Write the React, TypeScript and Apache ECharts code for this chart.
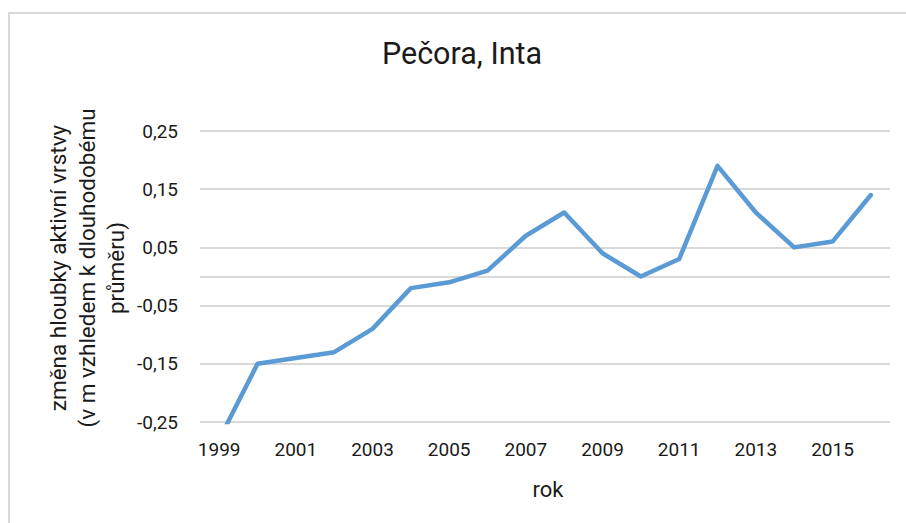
import React, { useEffect, useRef } from "react";
import * as echarts from "echarts";

const years = ["1999","2000","2001","2002","2003","2004","2005","2006","2007","2008","2009","2010","2011","2012","2013","2014","2015","2016"];
const changeValues = [-0.28, -0.15, -0.14, -0.13, -0.09, -0.02, -0.01, 0.01, 0.07, 0.11, 0.04, 0.0, 0.03, 0.19, 0.11, 0.05, 0.06, 0.14];
const yTickLabels = [-0.25, -0.15, -0.05, 0.05, 0.15, 0.25];
const gridLineValues = [-0.25, -0.15, -0.05, 0, 0.05, 0.15, 0.25];
const yMin = -0.25;
const yMax = 0.25;
const yStep = 0.05;

const titleText = "Pečora, Inta";
const yNameLines = ["změna hloubky aktivní vrstvy", "(v m vzhledem k dlouhodobému", "průměru)"];
const xName = "rok";

const FONT = "Roboto";
const TEXT = "#1a1a1a";
const GRID = "#d9d9d9";

const near = (a: number, b: number) => Math.abs(a - b) < 1e-9;

export default function App() {
  const ref = useRef<HTMLDivElement>(null);
  useEffect(() => {
    if (!ref.current) return;
    const chart = echarts.init(ref.current, undefined, { renderer: "svg" });
    const nTicks = Math.round((yMax - yMin) / yStep) + 1;
    const splitColors: string[] = [];
    for (let i = 0; i < nTicks; i++) {
      const v = yMin + i * yStep;
      splitColors.push(gridLineValues.some((g) => near(g, v)) ? GRID : "rgba(0,0,0,0)");
    }
    chart.setOption({
      animation: false,
      backgroundColor: "#ffffff",
      grid: { left: 200, right: 16, top: 131, bottom: 101, containLabel: false },
      xAxis: {
        type: "category",
        data: years,
        boundaryGap: true,
        axisLine: { show: false, onZero: false },
        axisTick: { show: false },
        axisLabel: { interval: 1, margin: 18, fontFamily: FONT, fontSize: 19, color: TEXT },
        splitLine: { show: false },
      },
      yAxis: {
        type: "value",
        min: yMin,
        max: yMax,
        interval: yStep,
        axisLine: { show: false },
        axisTick: { show: false },
        axisLabel: {
          margin: 22,
          fontFamily: FONT,
          fontSize: 19,
          color: TEXT,
          formatter: (v: number) =>
            yTickLabels.some((t) => near(t, v)) ? v.toFixed(2).replace(".", ",") : "",
        },
        splitLine: { show: true, lineStyle: { color: splitColors, width: 2 } },
      },
      series: [
        {
          type: "line",
          data: changeValues,
          symbol: "none",
          clip: true,
          lineStyle: { color: "#5b9bd5", width: 4.5, cap: "round", join: "round" },
          z: 5,
        },
      ],
      graphic: [
        {
          type: "rect",
          shape: { x: 9, y: 13, width: 1000, height: 1000 },
          style: { fill: "none", stroke: GRID, lineWidth: 2 },
          silent: true,
          z: -1,
        },
        {
          type: "text",
          x: 462,
          y: 53,
          style: { text: titleText, font: `30.5px ${FONT}`, fill: TEXT, textAlign: "center", textVerticalAlign: "middle" },
        },
        {
          type: "text",
          x: 87,
          y: 268,
          rotation: Math.PI / 2,
          style: {
            text: yNameLines.join("\n"),
            font: `22.5px ${FONT}`,
            fill: TEXT,
            textAlign: "center",
            textVerticalAlign: "middle",
            lineHeight: 29,
          },
        },
        {
          type: "text",
          x: 548,
          y: 489,
          style: { text: xName, font: `22px ${FONT}`, fill: TEXT, textAlign: "center", textVerticalAlign: "middle" },
        },
      ],
    });
    return () => chart.dispose();
  }, []);
  return <div ref={ref} style={{ position: "fixed", left: 0, top: 0, width: 906, height: 523 }} />;
}
